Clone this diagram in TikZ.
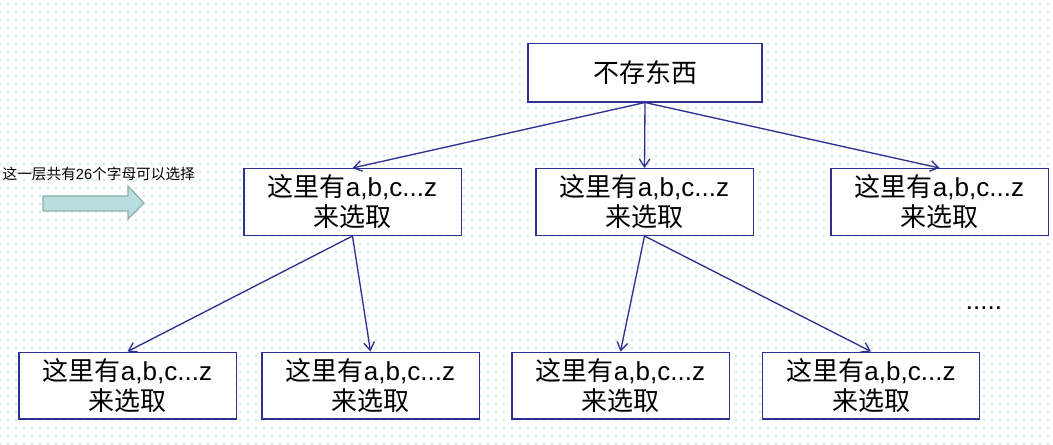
\documentclass[tikz,border=0pt]{standalone}
\usepackage{fontspec}
\setmainfont{Liberation Sans}
\newfontfamily\cjk{Noto Sans CJK SC}
\usetikzlibrary{arrows.meta,patterns.meta}
\definecolor{navy}{HTML}{2E3192}
\definecolor{dotcol}{HTML}{9CD8D2}
\definecolor{arrowfill}{HTML}{B8DEDF}
\definecolor{arrowline}{HTML}{8EAEAE}
\newcommand{\pick}{{\cjk 这里有}a,b,c...z\\{\cjk 来选取}}

\begin{document}
\begin{tikzpicture}[x=0.75pt, y=-0.75pt,
  every node/.style={font=\fontsize{19.5}{22.5}\selectfont},
  box/.style={draw=navy, line width=1pt, fill=white, align=center, inner sep=0pt,
    minimum width=163pt, minimum height=50pt},
  rootbox/.style={box, minimum width=175.5pt, minimum height=44pt},
  edge/.style={-{Straight Barb[length=6pt, width=8pt]}, navy, line width=1pt},
  note/.style={font=\fontsize{11}{13}\selectfont, inner sep=1pt}]
  % page and dotted background
  \useasboundingbox (0,0) rectangle (1053,444);
  \fill[white] (0,0) rectangle (1053,444);
  \fill[pattern={Dots[distance=6pt, radius=0.6pt]}, pattern color=dotcol] (0,0) rectangle (1053,444);
  % tree
  \node[rootbox] (root) at (645,72.5) {\cjk 不存东西};
  \node[box] (l1) at (352.5,202) {\pick};
  \node[box] (l2) at (644.5,202) {\pick};
  \node[box] (l3) at (939.5,202) {\pick};
  \node[box] (m1) at (127.5,385.5) {\pick};
  \node[box] (m2) at (370.5,385.5) {\pick};
  \node[box] (m3) at (620.5,385.5) {\pick};
  \node[box] (m4) at (871,385.5) {\pick};
  \node[anchor=base] (more) at (984,309) {.....};
  \draw[edge] (root.south) -- (l1.north);
  \draw[edge] (root.south) -- (l2.north);
  \draw[edge] (root.south) -- (l3.north);
  \draw[edge] (l1.south) -- (m1.north);
  \draw[edge] (l1.south) -- (m2.north);
  \draw[edge] (l2.south) -- (m3.north);
  \draw[edge] (l2.south) -- (m4.north);
  % side note with block arrow
  \node[note, anchor=west] (level) at (1,174) {{\cjk 这一层共有}26{\cjk 个字母可以选择}};
  \draw[fill=arrowfill, draw=arrowline, line width=0.9pt]
    (43,196) -- (128,196) -- (128,186) -- (144,203) -- (128,219) -- (128,211) -- (43,211) -- cycle;
\end{tikzpicture}
\end{document}
